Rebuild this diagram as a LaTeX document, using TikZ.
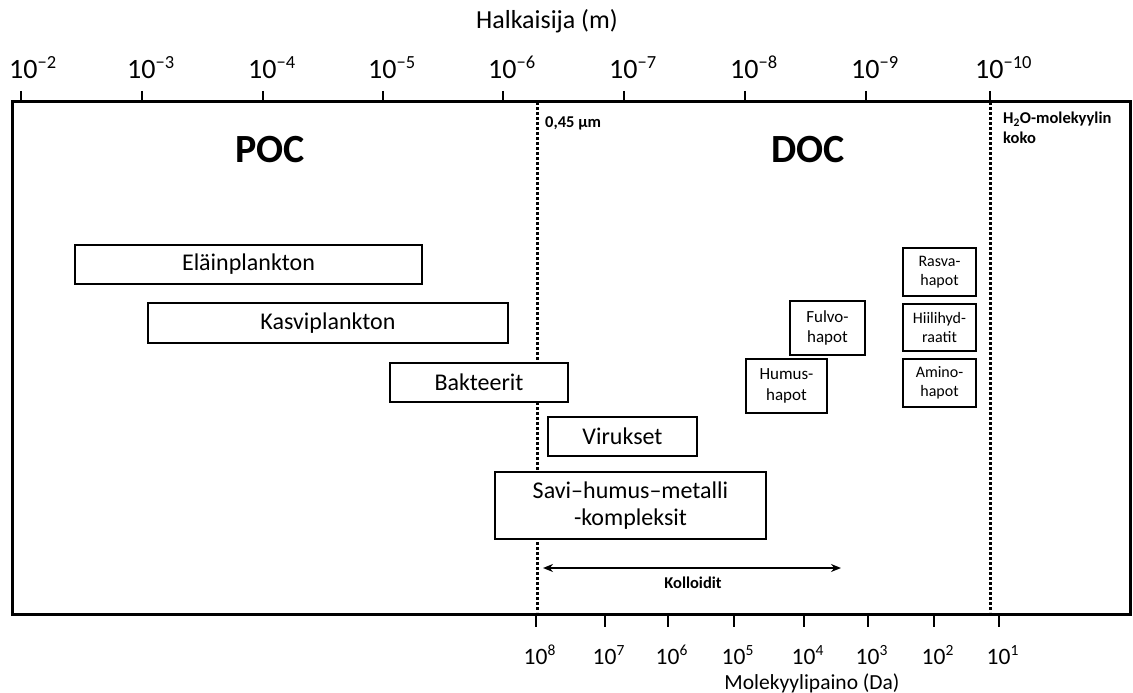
\documentclass[tikz,border=0pt]{standalone}
\usepackage{fontspec}
\setmainfont{Carlito}
\usetikzlibrary{arrows.meta}
\newcommand{\hoch}[1]{\raisebox{0.36em}{\scalebox{0.66}{#1}}}
\begin{document}
\begin{tikzpicture}[x=1pt,y=-1pt,
        box/.style={draw,fill=white,line width=1.8pt,inner sep=0pt,align=center,font=\fontsize{24}{27}\selectfont},
        smallbox/.style={draw,fill=white,line width=2.4pt,inner sep=0pt,align=center,font=\fontsize{16}{19.5}\selectfont},
        midbox/.style={smallbox,font=\fontsize{17}{20.5}\selectfont},
        limit/.style={line width=3pt,dash pattern=on 3pt off 2pt},
        note/.style={font=\bfseries\fontsize{16.5}{20}\selectfont,inner sep=0pt,align=left},
        toplabel/.style={font=\fontsize{28}{30}\selectfont,inner sep=0pt,anchor=base west},
        botlabel/.style={font=\fontsize{23.5}{26}\selectfont,inner sep=0pt,anchor=base west}]
                \useasboundingbox (0,0) rectangle (1133,693);
                % frame and axes
                \draw [line width=3pt] (12,101) rectangle (1130,614);
                \foreach \x/\e in {21/2,142/3,263/4,383/5,503/6,624/7,745/8,866/9,990/10}
                    {\draw [line width=2.6pt] (\x,91) -- (\x,101);}
                \foreach \x/\e in {142/3,263/4,383/5,503/6,624/7,745/8,866/9,990/10}
                    {\node [toplabel] (top\e) at (\x-15,79) {10\hoch{−\e}};}
                \node [toplabel] (top2) at (9,79) {10\hoch{−2}};
                \node [font=\fontsize{26}{30}\selectfont] (halk) at (547,21) {Halkaisija (m)};
                \foreach \x/\e in {536/8,605/7,668/6,734/5,804/4,868/3,934/2,999/1}
                    {\draw [line width=2.6pt] (\x,614) -- (\x,627);
                     \node [botlabel] (bot\e) at (\x-12.5,664) {10\hoch{\e}};}
                \node [font=\fontsize{21.5}{24}\selectfont] (mole) at (812,683) {Molekyylipaino (Da)};
                % limits
                \coordinate (filtT) at (537,102);
                \coordinate (filtB) at (537,612);
                \coordinate (waterT) at (990,102);
                \coordinate (waterB) at (990,612);
                \draw [limit] (filtT) -- (filtB);
                \draw [limit] (waterT) -- (waterB);
                \node [note,anchor=west] (filt) at (545,123) {0,45 µm};
                \node [note,anchor=north west] (water) at (1003,112) {H\textsubscript{2}O-molekyylin\\koko};
                \node [font=\bfseries\fontsize{40}{44}\selectfont] (poc) at (270,150) {POC};
                \node [font=\bfseries\fontsize{40}{44}\selectfont] (doc) at (808,150) {DOC};
                % size classes
                \node [box,minimum width=347pt,minimum height=39pt] (elain) at (248.5,264.5) {Eläinplankton};
                \node [box,minimum width=360pt,minimum height=40pt] (kasvi) at (328,323) {Kasviplankton};
                \node [box,minimum width=178pt,minimum height=39pt] (bakt) at (479,382.5) {Bakteerit};
                \node [box,minimum width=149pt,minimum height=39pt] (virus) at (622.5,436.5) {Virukset};
                \node [box,minimum width=271pt,minimum height=67pt] (savi) at (630.5,505.5) {Savi–humus–metalli\\-kompleksit};
                \node [midbox,minimum width=75pt,minimum height=54pt] (fulvo) at (827.5,328) {Fulvo-\\hapot};
                \node [midbox,minimum width=81pt,minimum height=54pt] (humus) at (786.5,386) {Humus-\\hapot};
                \node [smallbox,minimum width=73pt,minimum height=48pt] (rasva) at (939.5,272) {Rasva-\\hapot};
                \node [smallbox,minimum width=73pt,minimum height=47pt] (hiili) at (939.5,327.5) {Hiilihyd-\\raatit};
                \node [smallbox,minimum width=73pt,minimum height=48pt] (amino) at (939.5,383) {Amino-\\hapot};
                % colloids
                \coordinate (kolL) at (543,568);
                \coordinate (kolR) at (841,568);
                \draw [line width=1.8pt,{Stealth[length=10pt,width=8pt]}-{Stealth[length=10pt,width=8pt]}] (kolL) -- (kolR);
                \node [note] (koll) at (693,583) {Kolloidit};
            \end{tikzpicture}
\end{document}
